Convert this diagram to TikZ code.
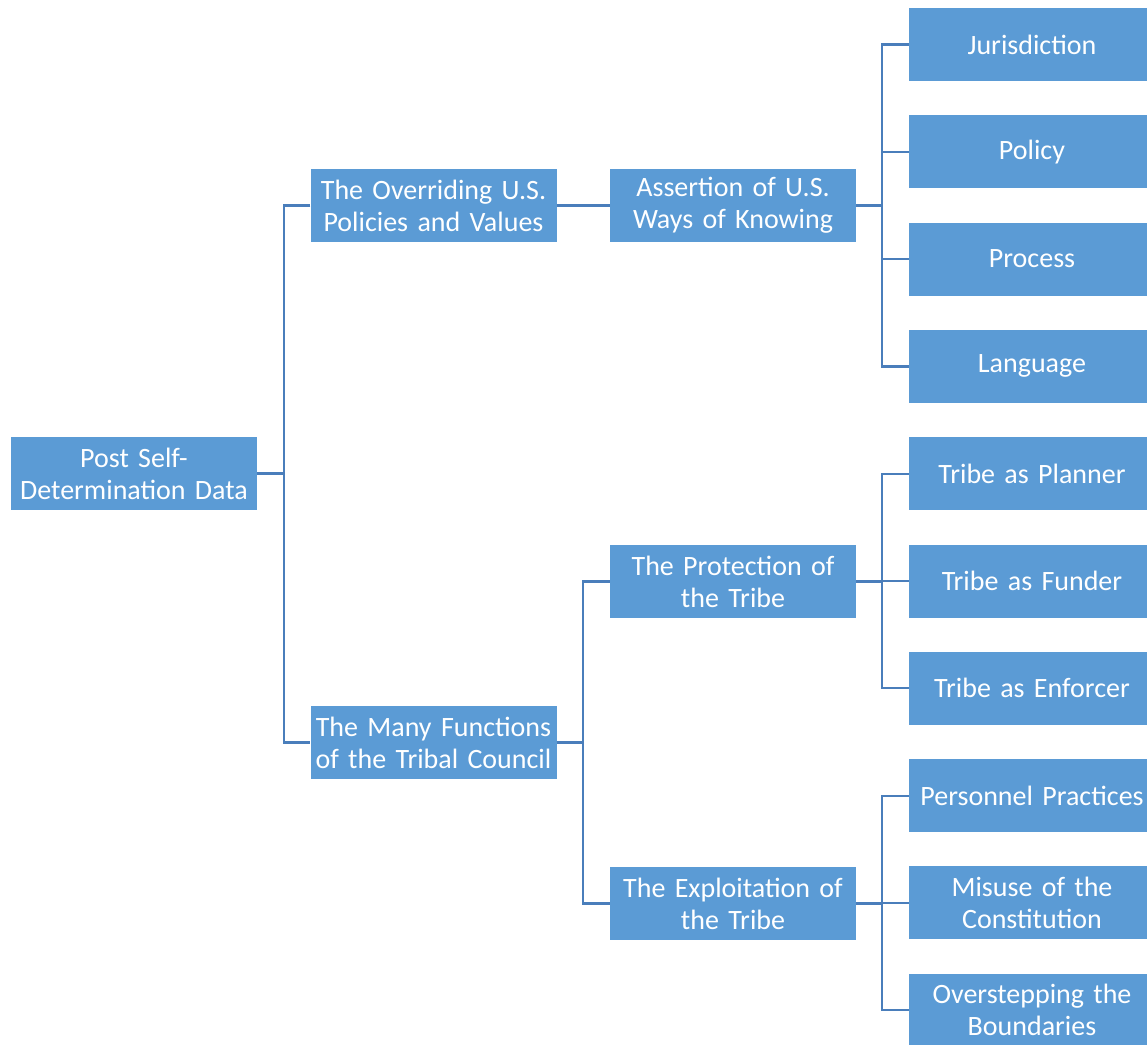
\documentclass[tikz,border=0pt]{standalone}
\usepackage{fontspec}
\setmainfont{Carlito}
\definecolor{boxblue}{HTML}{5B9BD5}
\definecolor{lineblue}{HTML}{4A7EBB}
\begin{document}
\begin{tikzpicture}[x=1pt,y=-1pt,
  box/.style={fill=boxblue, draw=none, minimum width=246pt, minimum height=73pt,
    text width=244pt, align=center, inner sep=0pt, text=white,
    font=\fontsize{28pt}{32pt}\selectfont},
  conn/.style={draw=lineblue, line width=2.2pt}]
\useasboundingbox (0,0) rectangle (1147,1044);
\clip (0,0) rectangle (1147,1044);
\node[box] (root) at (134,473.5) {Post Self-\\Determination Data};
\node[box] (a) at (433.5,205.5) {The Overriding U.S.\\Policies and Values};
\node[box] (b) at (433.5,742.5) {The Many Functions\\of the Tribal Council};
\node[box] (a1) at (733,205.5) {Assertion of U.S.\\Ways of Knowing};
\node[box] (b1) at (733,581.5) {The Protection of\\the Tribe};
\node[box] (b2) at (733,903.5) {The Exploitation of\\the Tribe};
\node[box] (j) at (1032,44.5) {Jurisdiction};
\node[box] (po) at (1032,151.8) {Policy};
\node[box] (pr) at (1032,259.1) {Process};
\node[box] (la) at (1032,366.4) {Language};
\node[box] (tp) at (1032,473.7) {Tribe as Planner};
\node[box] (tf) at (1032,581) {Tribe as Funder};
\node[box] (te) at (1032,688.3) {Tribe as Enforcer};
\node[box] (pp) at (1032,795.6) {Personnel Practices};
\node[box] (mc) at (1032,902.9) {Misuse of the\\Constitution};
\node[box] (ob) at (1032,1010.2) {Overstepping the\\Boundaries};
% connectors
\coordinate (r0) at (284,473.5);
\draw[conn] (root.east) -- (r0);
\draw[conn] (a.west) -| (r0) |- (b.west);
\draw[conn] (a.east) -- (a1.west);
\coordinate (b0) at (583,742.5);
\draw[conn] (b.east) -- (b0);
\draw[conn] (b1.west) -| (b0) |- (b2.west);
\coordinate (c0) at (882,205.5);
\draw[conn] (a1.east) -- (c0);
\draw[conn] (j.west) -| (c0) |- (la.west);
\draw[conn] (po.west) -- (po.west -| c0);
\draw[conn] (pr.west) -- (pr.west -| c0);
\coordinate (d0) at (882,581.5);
\draw[conn] (b1.east) -- (d0);
\draw[conn] (tp.west) -| (d0) |- (te.west);
\draw[conn] (tf.west) -- (tf.west -| d0);
\coordinate (e0) at (882,903.5);
\draw[conn] (b2.east) -- (e0);
\draw[conn] (pp.west) -| (e0) |- (ob.west);
\draw[conn] (mc.west) -- (mc.west -| e0);
\end{tikzpicture}
\end{document}
